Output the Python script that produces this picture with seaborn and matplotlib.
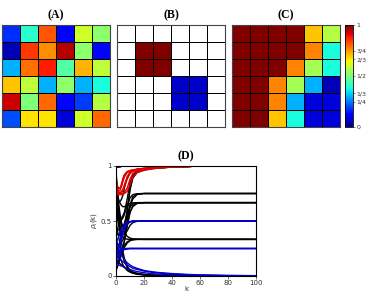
import matplotlib
matplotlib.use("Agg")
import matplotlib.pyplot as plt
import numpy as np
import pandas as pd
import seaborn as sns

# -----------------------------
# Heatmap data (6x6, jet scale 0..1)
# -----------------------------
grid_a = [
    [0.17, 0.40, 0.82, 0.12, 0.60, 0.52],
    [0.05, 0.85, 0.76, 0.95, 0.52, 0.13],
    [0.30, 0.79, 0.88, 0.45, 0.72, 0.58],
    [0.70, 0.58, 0.30, 0.52, 0.30, 0.38],
    [0.93, 0.50, 0.80, 0.13, 0.18, 0.57],
    [0.20, 0.67, 0.67, 0.08, 0.60, 0.80],
]
nan = np.nan
grid_b = [
    [nan, nan, nan, nan, nan, nan],
    [nan, 1.0, 1.0, nan, nan, nan],
    [nan, 1.0, 1.0, nan, nan, nan],
    [nan, nan, nan, 0.07, 0.07, nan],
    [nan, nan, nan, 0.07, 0.07, nan],
    [nan, nan, nan, nan, nan, nan],
]
grid_c = [
    [1.0, 1.0, 1.0, 1.0, 0.70, 0.57],
    [1.0, 1.0, 1.0, 1.0, 0.77, 0.38],
    [1.0, 1.0, 1.0, 0.77, 0.55, 0.38],
    [1.0, 1.0, 0.77, 0.55, 0.30, 0.05],
    [1.0, 1.0, 0.77, 0.30, 0.08, 0.08],
    [1.0, 1.0, 0.70, 0.38, 0.08, 0.08],
]
cbar_ticks = [0, 1 / 4, 1 / 3, 1 / 2, 2 / 3, 3 / 4, 1]
cbar_labels = ["0", "1/4", "1/3", "1/2", "2/3", "3/4", "1"]

# -----------------------------
# Panel D curves rho_i(k), sampled at k_vals
# -----------------------------
k_vals = [0, 1, 2, 3, 4, 5, 6, 8, 10, 12, 15, 20, 25, 30, 40, 50, 60, 80, 100]

black_curves = [
    # -> 1
    [0.98, 0.99, 0.99, 0.99, 1.0, 1.0, 1.0, 1.0, 1.0, 1.0, 1.0, 1.0, 1.0, 1.0, 1.0, 1.0, 1.0, 1.0, 1.0],
    [0.40, 0.38, 0.37, 0.37, 0.38, 0.40, 0.44, 0.60, 0.80, 0.90, 0.95, 0.97, 0.98, 0.985, 0.99, 0.995, 1.0, 1.0, 1.0],
    [0.60, 0.55, 0.52, 0.52, 0.53, 0.55, 0.58, 0.70, 0.85, 0.92, 0.955, 0.97, 0.98, 0.985, 0.99, 0.995, 1.0, 1.0, 1.0],
    [0.70, 0.68, 0.67, 0.68, 0.70, 0.74, 0.80, 0.90, 0.94, 0.96, 0.97, 0.98, 0.985, 0.99, 0.995, 1.0, 1.0, 1.0, 1.0],
    [0.90, 0.75, 0.60, 0.50, 0.45, 0.44, 0.46, 0.58, 0.78, 0.89, 0.94, 0.965, 0.975, 0.985, 0.99, 0.995, 1.0, 1.0, 1.0],
    # -> 3/4
    [0.30, 0.29, 0.29, 0.30, 0.31, 0.33, 0.37, 0.50, 0.65, 0.72, 0.745, 0.75, 0.75, 0.75, 0.75, 0.75, 0.75, 0.75, 0.75],
    [0.55, 0.52, 0.50, 0.50, 0.51, 0.53, 0.56, 0.64, 0.71, 0.74, 0.748, 0.75, 0.75, 0.75, 0.75, 0.75, 0.75, 0.75, 0.75],
    [0.95, 0.80, 0.65, 0.55, 0.48, 0.45, 0.45, 0.52, 0.63, 0.70, 0.74, 0.75, 0.75, 0.75, 0.75, 0.75, 0.75, 0.75, 0.75],
    # -> 2/3
    [0.20, 0.20, 0.21, 0.22, 0.24, 0.27, 0.32, 0.45, 0.58, 0.64, 0.66, 0.667, 0.667, 0.667, 0.667, 0.667, 0.667, 0.667, 0.667],
    [0.45, 0.43, 0.42, 0.42, 0.43, 0.45, 0.48, 0.56, 0.63, 0.655, 0.665, 0.667, 0.667, 0.667, 0.667, 0.667, 0.667, 0.667, 0.667],
    [0.80, 0.74, 0.69, 0.66, 0.64, 0.63, 0.63, 0.645, 0.66, 0.665, 0.667, 0.667, 0.667, 0.667, 0.667, 0.667, 0.667, 0.667, 0.667],
    [0.10, 0.12, 0.14, 0.17, 0.21, 0.26, 0.32, 0.46, 0.58, 0.63, 0.66, 0.667, 0.667, 0.667, 0.667, 0.667, 0.667, 0.667, 0.667],
    # -> 1/2
    [0.85, 0.70, 0.55, 0.45, 0.40, 0.38, 0.38, 0.41, 0.46, 0.485, 0.497, 0.50, 0.50, 0.50, 0.50, 0.50, 0.50, 0.50, 0.50],
    # -> 1/3
    [0.05, 0.08, 0.12, 0.16, 0.20, 0.23, 0.26, 0.30, 0.32, 0.33, 0.333, 0.333, 0.333, 0.333, 0.333, 0.333, 0.333, 0.333, 0.333],
    [0.60, 0.52, 0.45, 0.40, 0.37, 0.35, 0.34, 0.335, 0.333, 0.333, 0.333, 0.333, 0.333, 0.333, 0.333, 0.333, 0.333, 0.333, 0.333],
    [0.20, 0.20, 0.21, 0.22, 0.24, 0.26, 0.28, 0.31, 0.325, 0.33, 0.333, 0.333, 0.333, 0.333, 0.333, 0.333, 0.333, 0.333, 0.333],
    [0.75, 0.68, 0.60, 0.53, 0.47, 0.43, 0.40, 0.36, 0.345, 0.338, 0.335, 0.333, 0.333, 0.333, 0.333, 0.333, 0.333, 0.333, 0.333],
    # -> 0
    [0.50, 0.42, 0.35, 0.28, 0.22, 0.17, 0.13, 0.08, 0.05, 0.035, 0.022, 0.012, 0.007, 0.004, 0.002, 0.001, 0.0, 0.0, 0.0],
    [0.30, 0.25, 0.20, 0.16, 0.13, 0.10, 0.08, 0.05, 0.035, 0.025, 0.016, 0.010, 0.006, 0.004, 0.002, 0.001, 0.0, 0.0, 0.0],
    [0.70, 0.60, 0.50, 0.40, 0.30, 0.22, 0.16, 0.09, 0.05, 0.03, 0.018, 0.010, 0.006, 0.004, 0.002, 0.001, 0.0, 0.0, 0.0],
    [0.15, 0.14, 0.12, 0.11, 0.10, 0.09, 0.08, 0.06, 0.045, 0.035, 0.025, 0.015, 0.009, 0.006, 0.003, 0.002, 0.001, 0.0, 0.0],
]

red_curves = [
    [0.80, 0.78, 0.77, 0.78, 0.82, 0.88, 0.92, 0.95, 0.96, 0.965, 0.97, 0.975, 0.98, 0.985, 0.99, 0.995, 1.0, 1.0, 1.0],
    [0.76, 0.75, 0.75, 0.75, 0.76, 0.78, 0.81, 0.88, 0.93, 0.95, 0.96, 0.97, 0.978, 0.984, 0.99, 0.995, 1.0, 1.0, 1.0],
    [0.85, 0.82, 0.80, 0.80, 0.82, 0.86, 0.90, 0.94, 0.955, 0.963, 0.97, 0.977, 0.982, 0.986, 0.99, 0.995, 1.0, 1.0, 1.0],
    [0.78, 0.76, 0.75, 0.75, 0.75, 0.75, 0.76, 0.80, 0.88, 0.93, 0.955, 0.968, 0.976, 0.982, 0.99, 0.995, 1.0, 1.0, 1.0],
    [0.74, 0.74, 0.74, 0.74, 0.74, 0.74, 0.75, 0.77, 0.83, 0.90, 0.94, 0.96, 0.972, 0.98, 0.99, 0.995, 1.0, 1.0, 1.0],
    [0.82, 0.80, 0.79, 0.80, 0.84, 0.89, 0.92, 0.945, 0.955, 0.962, 0.968, 0.975, 0.98, 0.985, 0.99, 0.995, 1.0, 1.0, 1.0],
    [0.79, 0.77, 0.76, 0.76, 0.77, 0.79, 0.83, 0.90, 0.94, 0.955, 0.965, 0.973, 0.979, 0.984, 0.99, 0.995, 1.0, 1.0, 1.0],
]

blue_curves = [
    # -> 1/2
    [0.20, 0.22, 0.26, 0.32, 0.38, 0.42, 0.45, 0.48, 0.49, 0.50, 0.50, 0.50, 0.50, 0.50, 0.50, 0.50, 0.50, 0.50, 0.50],
    [0.30, 0.33, 0.36, 0.40, 0.43, 0.45, 0.47, 0.49, 0.495, 0.50, 0.50, 0.50, 0.50, 0.50, 0.50, 0.50, 0.50, 0.50, 0.50],
    [0.15, 0.17, 0.20, 0.26, 0.33, 0.39, 0.43, 0.47, 0.49, 0.50, 0.50, 0.50, 0.50, 0.50, 0.50, 0.50, 0.50, 0.50, 0.50],
    # -> 1/4
    [0.15, 0.17, 0.20, 0.22, 0.235, 0.24, 0.245, 0.25, 0.25, 0.25, 0.25, 0.25, 0.25, 0.25, 0.25, 0.25, 0.25, 0.25, 0.25],
    [0.35, 0.30, 0.27, 0.26, 0.255, 0.25, 0.25, 0.25, 0.25, 0.25, 0.25, 0.25, 0.25, 0.25, 0.25, 0.25, 0.25, 0.25, 0.25],
    [0.10, 0.13, 0.17, 0.20, 0.22, 0.235, 0.24, 0.245, 0.25, 0.25, 0.25, 0.25, 0.25, 0.25, 0.25, 0.25, 0.25, 0.25, 0.25],
    # -> 0
    [0.30, 0.27, 0.24, 0.21, 0.19, 0.17, 0.15, 0.12, 0.10, 0.085, 0.07, 0.05, 0.04, 0.032, 0.022, 0.015, 0.010, 0.005, 0.003],
    [0.22, 0.20, 0.18, 0.16, 0.14, 0.13, 0.12, 0.10, 0.085, 0.07, 0.06, 0.045, 0.035, 0.028, 0.018, 0.012, 0.008, 0.004, 0.002],
    [0.12, 0.11, 0.10, 0.095, 0.09, 0.085, 0.08, 0.07, 0.06, 0.05, 0.04, 0.03, 0.022, 0.017, 0.011, 0.007, 0.005, 0.002, 0.001],
]

# -----------------------------
# Figure
# -----------------------------
W, H = 366, 292
fig = plt.figure(figsize=(W / 100, H / 100), dpi=100)


def box(x0, y0, x1, y1):
    return [x0 / W, 1 - y1 / H, (x1 - x0) / W, (y1 - y0) / H]


ax_a = fig.add_axes(box(2, 25, 110, 127))
ax_b = fig.add_axes(box(117, 25, 225, 127))
ax_c = fig.add_axes(box(232, 25, 340, 127))
ax_cb = fig.add_axes(box(345, 25, 353, 127))
ax_d = fig.add_axes(box(116, 166, 256, 276))

title_font = dict(family="Liberation Serif", fontweight="bold", fontsize=8.5)

for ax, grid, label, has_cbar in [
    (ax_a, grid_a, "(A)", False),
    (ax_b, grid_b, "(B)", False),
    (ax_c, grid_c, "(C)", True),
]:
    df = pd.DataFrame(grid)
    sns.heatmap(
        df, ax=ax, cmap="jet", vmin=0, vmax=1,
        linewidths=0.6, linecolor="black",
        cbar=has_cbar, cbar_ax=ax_cb if has_cbar else None,
        xticklabels=False, yticklabels=False,
    )
    for i in range(7):
        ax.axhline(i, color="black", lw=0.6)
        ax.axvline(i, color="black", lw=0.6)
    for sp in ax.spines.values():
        sp.set_visible(True)
        sp.set_color("#444444")
        sp.set_linewidth(0.8)
    ax.set_title(label, pad=5, **title_font)

cb = ax_c.collections[0].colorbar
cb.set_ticks(cbar_ticks)
cb.set_ticklabels(cbar_labels)
cb.ax.tick_params(labelsize=4.5, length=1.5, width=0.4, pad=1, colors="#333333")
cb.outline.set_linewidth(0.6)

# Panel D
for ys in black_curves:
    sns.lineplot(x=k_vals, y=ys, ax=ax_d, color="black", lw=1.0)
for ys in blue_curves:
    sns.lineplot(x=k_vals, y=ys, ax=ax_d, color="#0000cc", lw=1.0)
for ys in red_curves:
    sns.lineplot(x=k_vals, y=ys, ax=ax_d, color="#e00000", lw=1.0)

ax_d.set_xlim(0, 100)
ax_d.set_ylim(0, 1)
ax_d.set_xticks([0, 20, 40, 60, 80, 100])
ax_d.set_yticks([0, 0.5, 1])
ax_d.set_yticklabels(["0", "0.5", "1"])
ax_d.tick_params(labelsize=5, length=2, width=0.5, pad=1, colors="#333333")
ax_d.set_xlabel("k", fontsize=5, labelpad=0, color="#333333")
ax_d.set_ylabel(r"$\rho_i$(k)", fontsize=5, labelpad=1, color="#333333")
for sp in ax_d.spines.values():
    sp.set_color("black")
    sp.set_linewidth(0.8)
ax_d.set_title("(D)", pad=5, **title_font)

fig.savefig("out.png", dpi=100)
